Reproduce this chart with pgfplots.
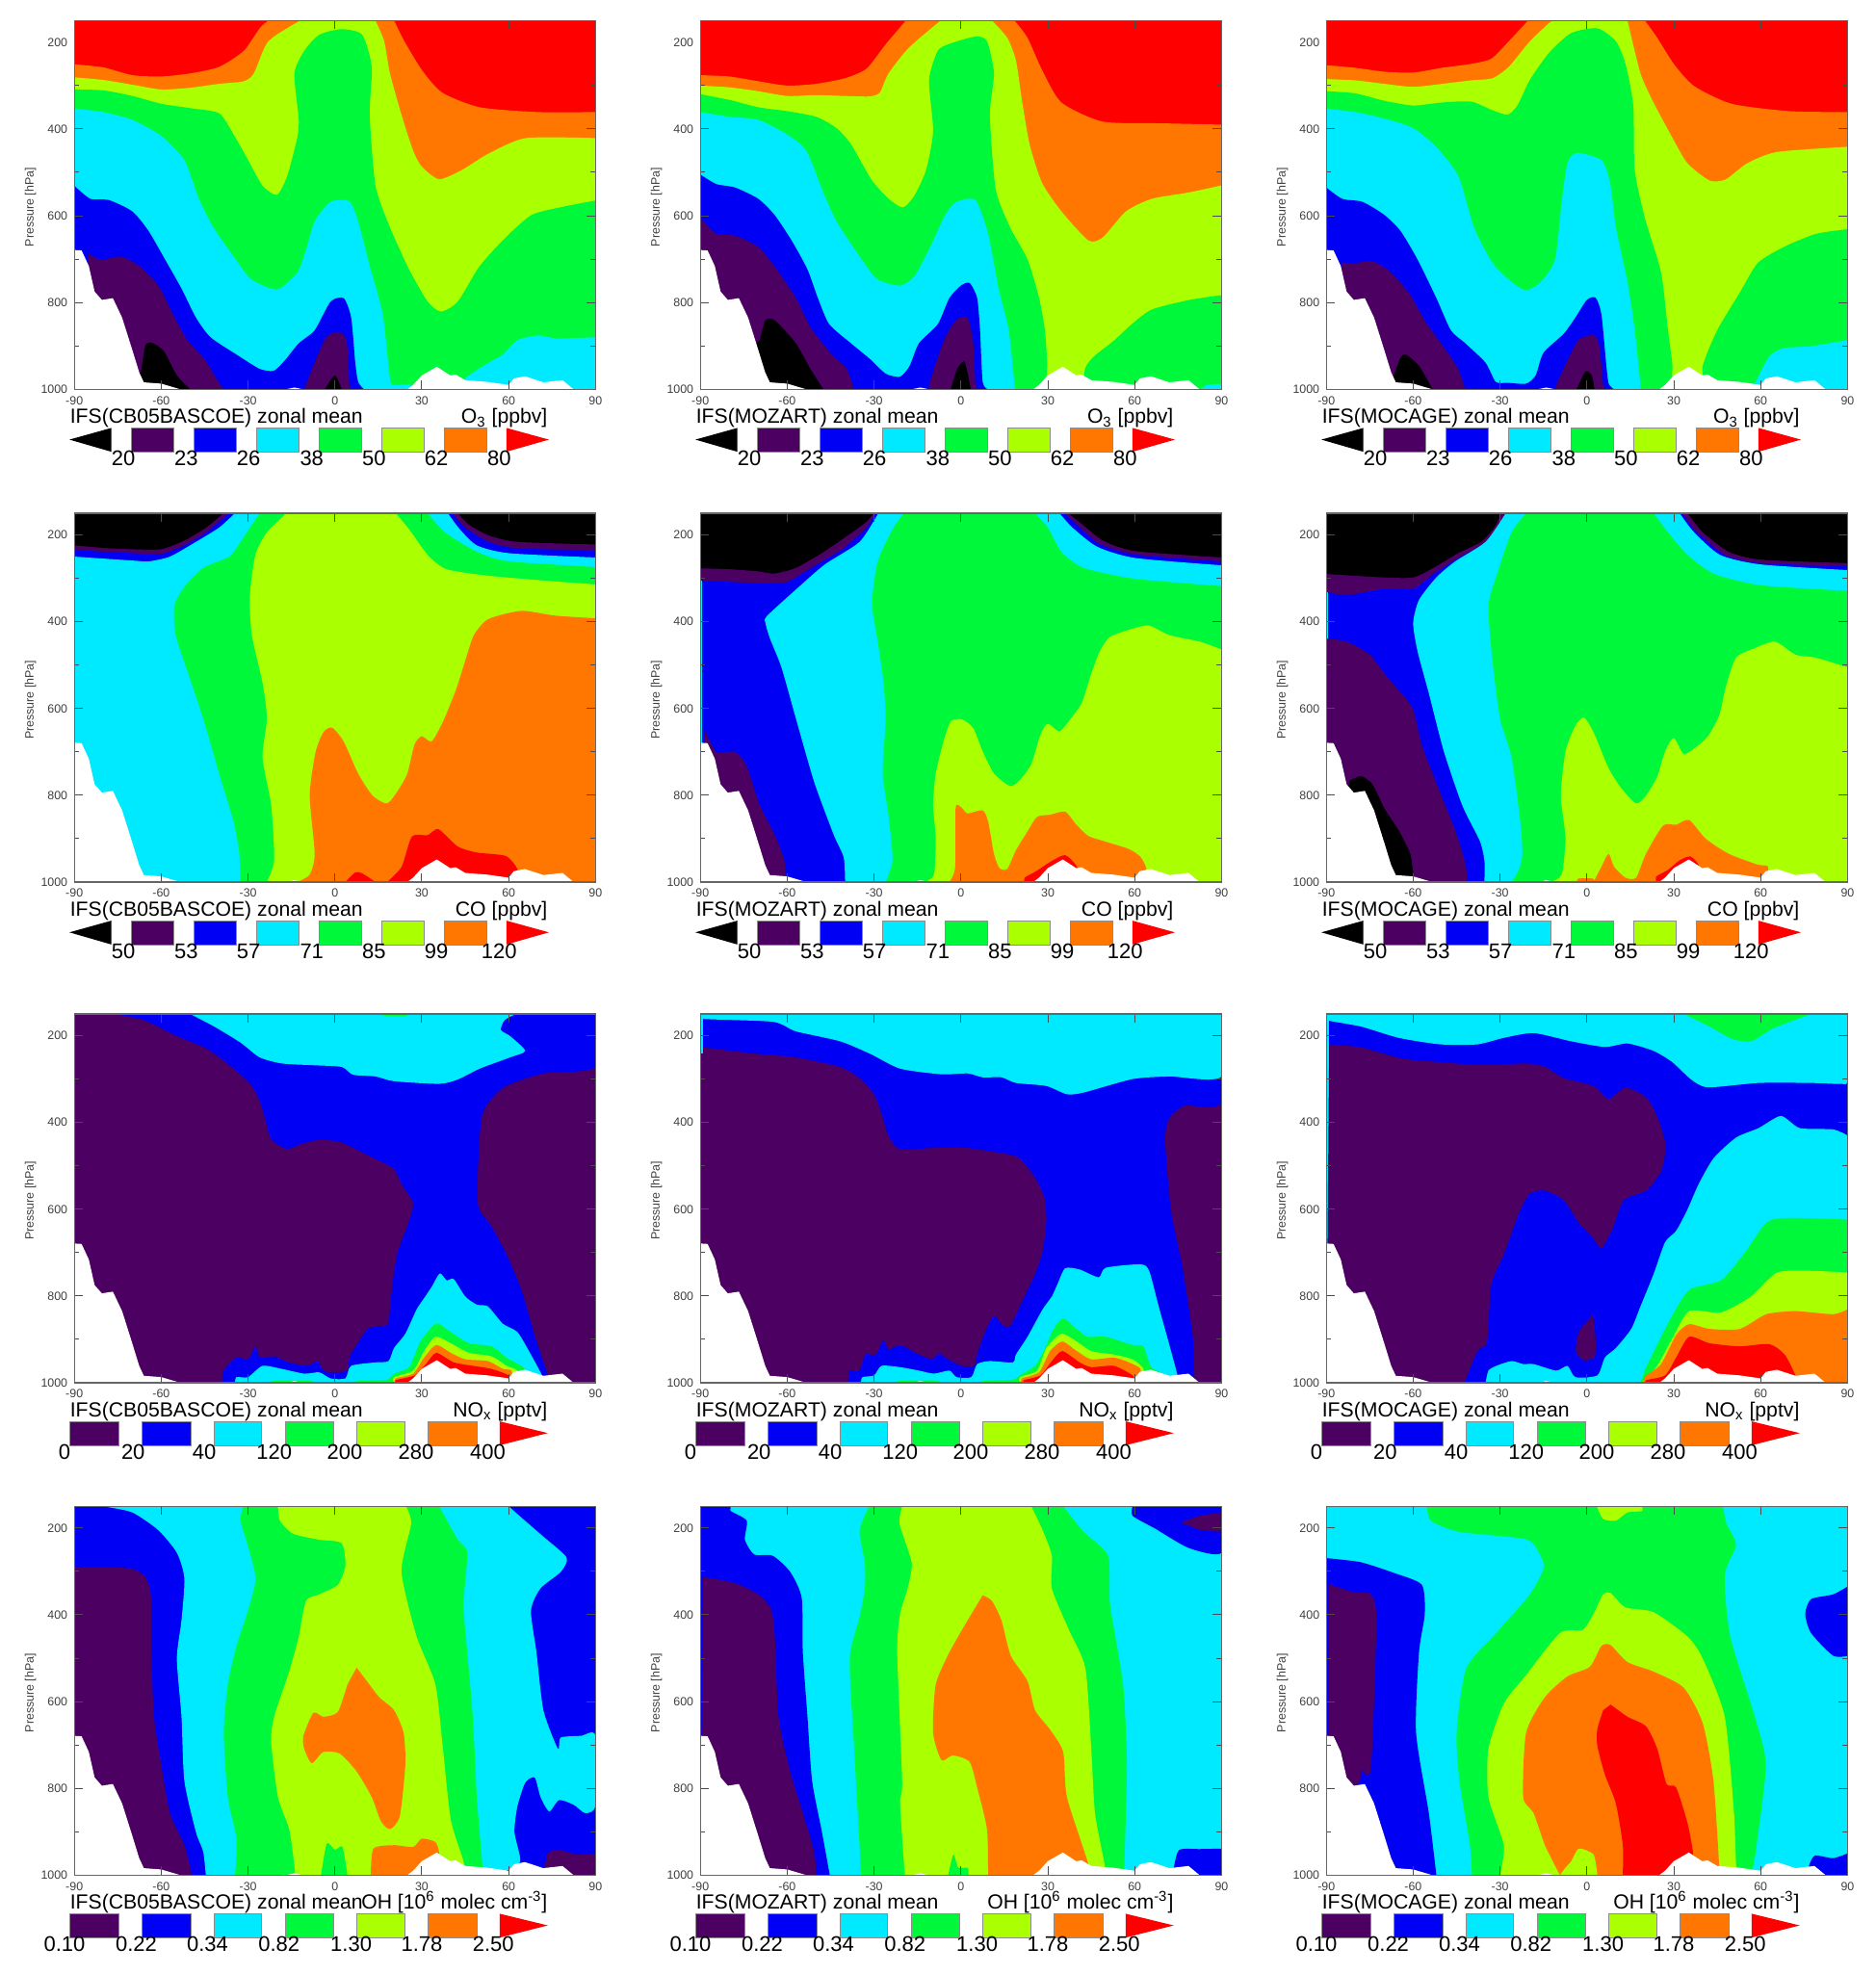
\documentclass[border=0pt]{standalone}
\usepackage{fontspec}
\setmainfont{Liberation Sans}
\usepackage{pgfplots}
\pgfplotsset{compat=1.18}
\definecolor{cP}{HTML}{4B0062}
\definecolor{cB}{HTML}{0000F5}
\definecolor{cC}{HTML}{00EAFF}
\definecolor{cG}{HTML}{00F83A}
\definecolor{cY}{HTML}{AAFF00}
\definecolor{cO}{HTML}{FF7700}
\definecolor{cR}{HTML}{FF0000}
\tikzset{ct/.style={fill=#1,draw=none,smooth,tension=0.4}}
% closed contour region; B: closes over the lower right and left corners, L: lower left only, R: lower right only
\newcommand{\reg}[2]{\addplot[ct=#1] coordinates {#2} -- cycle;}
\newcommand{\regB}[2]{\addplot[ct=#1] coordinates {#2} -- (axis cs:90,1000) -- (axis cs:-90,1000) -- cycle;}
\newcommand{\regL}[2]{\addplot[ct=#1] coordinates {#2} -- (axis cs:-90,1000) -- cycle;}
\newcommand{\regR}[2]{\addplot[ct=#1] coordinates {#2} -- (axis cs:90,1000) -- cycle;}
\newcommand{\full}[1]{\addplot[fill=#1,draw=none] coordinates {(-90,150)(90,150)(90,1000)(-90,1000)} -- cycle;}
% orography, same in every panel
\newcommand{\terrain}{\addplot[fill=white,draw=none] coordinates {(-90,1000)(-90,679)(-87.5,680)(-85,716)(-83,775)(-80.5,794)(-76.7,790)(-73.5,835)(-70,909)(-67.6,961)(-66,984)(-60,987)(-53.4,1000)(-17,1000)(-14,996)(-11,1000)(25,1000)(27,990)(30,968)(35.2,948)(39.8,968)(41.7,966)(45,979)(52.7,983)(60,990)(61.8,975)(65.6,970)(72,984)(78.6,979)(82.4,1000)} -- cycle;}
\newcommand{\sw}[3]{\addplot[fill=#3,draw=black!45,line width=.3pt] coordinates {(#1,1089)(#2,1089)(#2,1144)(#1,1144)} -- cycle;}
\newcommand{\lab}[2]{\node[font=\fontsize{11}{12}\selectfont] at (axis cs:#1,1160) {#2};}
\newcommand{\upr}{\addplot[fill=cR,draw=none] coordinates {(59.2,1089)(59.2,1144)(73.9,1116)} -- cycle;}
\newcommand{\cbA}[7]{%
 \addplot[fill=black,draw=none] coordinates {(-77.2,1089)(-77.2,1144)(-91.7,1116)} -- cycle;
 \sw{-70.2}{-55.8}{cP}\sw{-48.6}{-34.2}{cB}\sw{-27}{-12.4}{cC}\sw{-5.4}{9}{cG}\sw{16.2}{30.8}{cY}\sw{37.8}{52.3}{cO}\upr
 \lab{-73.1}{#1}\lab{-51.4}{#2}\lab{-29.8}{#3}\lab{-8}{#4}\lab{13.5}{#5}\lab{35}{#6}\lab{56.7}{#7}}
\newcommand{\cbB}[7]{%
 \sw{-91.5}{-74.6}{cP}\sw{-66.6}{-49.8}{cB}\sw{-41.9}{-25.4}{cC}\sw{-17.2}{-0.5}{cG}\sw{7.5}{24}{cY}\sw{32}{48.9}{cO}
 \addplot[fill=cR,draw=none] coordinates {(56.9,1089)(56.9,1144)(73.5,1116)} -- cycle;
 \lab{-93.4}{#1}\lab{-69.7}{#2}\lab{-45.1}{#3}\lab{-21}{#4}\lab{3.4}{#5}\lab{28}{#6}\lab{52.8}{#7}}
\newcommand{\cbC}[7]{%
 \sw{-91.5}{-74.6}{cP}\sw{-66.6}{-49.8}{cB}\sw{-41.9}{-25.4}{cC}\sw{-17.2}{-0.5}{cG}\sw{7.5}{24}{cY}\sw{32}{48.9}{cO}
 \addplot[fill=cR,draw=none] coordinates {(56.9,1089)(56.9,1144)(73.5,1116)} -- cycle;
 \lab{-93.4}{#1}\lab{-68.6}{#2}\lab{-44}{#3}\lab{-19.3}{#4}\lab{5.6}{#5}\lab{30}{#6}\lab{54.7}{#7}}
\newcommand{\titles}[2]{%
 \node[anchor=base west,inner sep=0pt,font=\fontsize{10.6}{11}\selectfont] at (axis cs:-91.6,1079) {#1};
 \node[anchor=base east,inner sep=0pt,font=\fontsize{10.6}{11}\selectfont] at (axis cs:73.5,1079) {#2};}
\pgfplotsset{
 base/.style={scale only axis,width=270.6pt,height=191.5pt,anchor=south west,
  xmin=-90,xmax=90,ymin=150,ymax=1000,y dir=reverse},
 panel/.style={base,axis on top,
  xtick={-90,-60,...,90},ytick={200,400,600,800,1000},minor y tick num=1,
  tick align=inside,major tick length=4.5pt,minor tick length=2.5pt,
  axis line style={black!60,line width=.6pt},tick style={black!70,line width=.5pt},
  ticklabel style={font=\fontsize{6.2}{7}\selectfont,text=black!75},
  /pgf/number format/assume math mode=true,/pgf/number format/1000 sep={},
  ylabel={Pressure [hPa]},
  ylabel style={font=\fontsize{6.2}{7}\selectfont,text=black!75,at={(axis description cs:-0.084,0.494)},anchor=center}},
}
% contours are clipped to the frame; titles and colour bar sit in an unclipped overlay axis
\newcommand{\panel}[4]{%
 \begin{axis}[panel,at={(#1pt,#2pt)}] #3 \terrain \end{axis}
 \begin{axis}[base,at={(#1pt,#2pt)},hide axis,clip=false] #4 \end{axis}}
\begin{document}
\begin{tikzpicture}
\path[use as bounding box] (0,0) rectangle (974pt,1025pt);
% ---- O3 ----
\panel{38.6}{822.85}{
\full{cR}
\regB{cO}{(-90,251)(-80,258)(-70,276)(-60,279)(-50,272)(-40,257)(-31.5,220)(-26,168)(-23,150)(-23,150)(20.4,150)(20.4,150)(24,198)(30,264)(37,316)(50,350)(70,361)(90,361)}
\regB{cY}{(-90,281)(-80,287)(-70,298)(-60,309)(-50,305)(-40,296)(-31.5,290)(-28,272)(-23,198)(-12,150)(-12,150)(14,150)(14,150)(17,198)(19,272)(23,368)(27,450)(30,487)(36,516)(44,494)(53,457)(66,421)(90,421)}
\regB{cG}{(-90,309)(-80,311)(-70,324)(-60,342)(-50,352)(-40,364)(-35,413)(-30,472)(-25,531)(-20,552)(-16.5,509)(-13,420)(-12.5,376)(-14,272)(-10.6,220)(-5.4,183)(2.3,170)(9.4,183)(12.7,257)(12,368)(14,531)(19,627)(25.6,724)(32,798)(36.6,821)(42.4,798)(50,716)(59,650)(68,598)(79,579)(90,565)}
\regL{cC}{(-90,353)(-80,361)(-70,379)(-60,416)(-52,472)(-47,561)(-42,627)(-35,694)(-29,746)(-20,770)(-13,731)(-10,679)(-7,613)(-1.5,568)(5,567)(8,613)(12,716)(16.5,827)(19,975)(20.4,990)(26,989)(26,1000)}
\regR{cC}{(45,1000)(45,975)(53,939)(58,920)(63,887)(70,876)(77,883)(90,880)}
\regL{cB}{(-90,531)(-84.5,561)(-78,564)(-70,590)(-64.4,635)(-58,709)(-53,768)(-48,835)(-43,880)(-34,920)(-26,953)(-21,957)(-17,931)(-12.5,894)(-7,864)(-1.5,798)(3,790)(5.6,835)(7,938)(8,983)(10,1000)}
\regL{cP}{(-85,687)(-81,702)(-74,694)(-67.6,716)(-61,761)(-56,827)(-51,887)(-45,931)(-41,975)(-38.5,1000)}
\reg{cP}{(-10.6,1000)(-7,938)(-3,880)(1,868)(4,887)(5,990)(6,1000)}
\regL{black}{(-67,961)(-65.4,898)(-62.8,894)(-59,913)(-54.6,968)(-50,1000)}
\reg{black}{(-3.5,1000)(0,968)(2.3,1000)}
}{\titles{IFS(CB05BASCOE) zonal mean}{O\textsubscript{3} [ppbv]}
\cbA{20}{23}{26}{38}{50}{62}{80}}
\panel{363.6}{822.85}{
\full{cR}
\regB{cO}{(-90,276)(-80,279)(-70,290)(-60,300)(-50,296)(-40,283)(-32.6,261)(-26,205)(-19,150)(-19,150)(18.5,150)(18.5,150)(23,190)(28,264)(34.7,339)(49,383)(70,387)(90,390)}
\regB{cY}{(-90,300)(-80,304)(-70,313)(-60,324)(-50,322)(-40,324)(-31.5,325)(-28,316)(-25,272)(-18,213)(-7,150)(-7,150)(10.7,150)(10.7,150)(16,190)(19,242)(21,331)(23.7,435)(28,524)(34.7,590)(44,657)(49,650)(57,590)(66,561)(79,546)(90,530)}
\regB{cG}{(-90,320)(-80,333)(-70,350)(-60,359)(-50,372)(-43,398)(-38,435)(-31,516)(-25,561)(-20,581)(-16,553)(-12,494)(-9.6,405)(-11,287)(-8,220)(-4,204)(5,187)(9,198)(11.4,272)(10,368)(12,539)(17,627)(23,701)(27,790)(29,864)(29.8,942)(30,1000)(41,1000)(43,950)(46,924)(53,887)(59,850)(66,816)(79,794)(90,783)}
\regL{cC}{(-90,361)(-80,372)(-70,379)(-60,413)(-53.4,450)(-48,539)(-43,613)(-35,694)(-29,746)(-21,761)(-16,739)(-10.6,672)(-5.4,598)(-1.5,568)(5,564)(9.4,642)(13,768)(16.5,864)(18.5,990)(18.5,1000)}
\regR{cC}{(83,1000)(85,990)(90,988)}
\regL{cB}{(-90,505)(-84.5,527)(-78,535)(-70,561)(-64.4,598)(-58.5,657)(-53,724)(-49.4,790)(-45.5,850)(-38,894)(-31.3,931)(-26,964)(-21,971)(-17.7,946)(-14.5,894)(-8,850)(-4,790)(0,761)(3,755)(5.6,790)(6.6,864)(7.5,983)(9.4,1000)}
\regL{cP}{(-90,605)(-84.5,642)(-78,646)(-70,672)(-63.6,724)(-57,790)(-52,857)(-45,917)(-39.5,953)(-37,1000)}
\reg{cP}{(-11,1000)(-11,990)(-9.3,953)(-5.4,880)(-1.5,839)(2.3,835)(4.3,894)(5,990)(6,1000)}
\regL{black}{(-69.5,887)(-67.5,841)(-64.3,841)(-57,894)(-52,953)(-47.5,1000)}
\reg{black}{(-3.5,1000)(-1.3,953)(1,935)(2,953)(3.4,1000)}
}{\titles{IFS(MOZART) zonal mean}{O\textsubscript{3} [ppbv]}
\cbA{20}{23}{26}{38}{50}{62}{80}}
\panel{688.6}{822.85}{
\full{cR}
\regB{cO}{(-90,253)(-80,259)(-70,268)(-60,270)(-50,259)(-40,250)(-33,238)(-27,198)(-20.3,150)(-20.3,150)(20,150)(20,150)(24,187)(30,250)(37,301)(50,342)(70,359)(90,361)}
\regB{cY}{(-90,285)(-80,288)(-70,296)(-60,303)(-50,296)(-40,288)(-32.6,283)(-27,257)(-19.7,198)(-12.5,153)(-10,150)(-10,150)(14,150)(14,150)(18.5,272)(23,339)(29.5,420)(34.7,479)(42.4,519)(48,516)(55.4,479)(65.7,453)(90,441)}
\regB{cG}{(-90,313)(-80,318)(-70,335)(-60,346)(-50,339)(-40,337)(-32.6,357)(-27.4,367)(-24,346)(-19.7,287)(-13,224)(-5.4,179)(3.6,168)(10,198)(13.3,250)(16,346)(16.5,494)(20,605)(25.6,731)(28,864)(29.5,942)(30,1000)(40,1000)(40,946)(45,864)(53,775)(59,709)(68,672)(79,642)(90,631)}
\regL{cC}{(-90,353)(-80,361)(-70,376)(-60,398)(-52,442)(-44.4,509)(-39,627)(-32.6,709)(-26,753)(-21,772)(-16,753)(-11,701)(-8.7,568)(-6.7,479)(-3.5,455)(5,472)(8,524)(10,627)(14,753)(16.5,864)(18.5,990)(18.5,1000)}
\regR{cC}{(57,1000)(58,987)(63,924)(68,905)(77,901)(90,887)}
\regL{cB}{(-90,535)(-84.5,561)(-77.5,568)(-70,598)(-64.4,635)(-58.5,701)(-52,790)(-47,864)(-42,894)(-35,939)(-31.5,983)(-27.4,985)(-21,987)(-17.7,968)(-15,916)(-8,872)(-4,835)(0,794)(3,789)(5,827)(6.6,938)(7.5,987)(9.4,1000)}
\regL{cP}{(-84.7,707)(-81,710)(-74,705)(-67.6,731)(-61,783)(-56,842)(-48,917)(-44.5,953)(-42,1000)}
\reg{cP}{(-11,1000)(-10.6,990)(-7,938)(-3,887)(2.3,875)(4.3,901)(5.6,990)(6,1000)}
\regL{black}{(-67,975)(-64.4,927)(-62.5,920)(-58,946)(-53.3,1000)}
\reg{black}{(-3.5,1000)(-0.5,959)(1.7,968)(2.6,1000)}
}{\titles{IFS(MOCAGE) zonal mean}{O\textsubscript{3} [ppbv]}
\cbA{20}{23}{26}{38}{50}{62}{80}}
% ---- CO ----
\panel{38.6}{567}{
\full{black}
\regB{cP}{(-90,224)(-80,230)(-70,233)(-60,233)(-52,213)(-44.4,183)(-38.5,150)(-38.5,150)(42.4,150)(42.4,150)(46,175)(53,201)(63,216)(90,222)}
\regB{cB}{(-90,235)(-70,242)(-60,244)(-52,224)(-44.4,194)(-36.7,150)(-36.7,150)(40.5,150)(40.5,150)(45,183)(53,216)(63,231)(90,235)}
\regB{cC}{(-90,250)(-70,259)(-64.4,261)(-57,250)(-48,216)(-40,183)(-34.5,150)(-34.5,150)(39,150)(39,150)(43,186)(49,224)(60,242)(90,252)}
\regR{cG}{(-32.6,1000)(-33,935)(-35,861)(-40,750)(-45.5,623)(-51,513)(-55,431)(-55.5,364)(-52,320)(-45.5,276)(-36.5,250)(-32.6,216)(-26,150)(-26,150)(32,150)(32,150)(38,194)(49,239)(60,261)(90,274)}
\regR{cY}{(-23.5,1000)(-21,950)(-22,824)(-25,713)(-23.5,623)(-25,541)(-28.7,431)(-29.4,342)(-27.5,246)(-23.5,194)(-18.4,160)(-17,150)(-17,150)(21,150)(21,150)(25.6,187)(32,246)(38.5,279)(53,294)(72,305)(90,314)}
\regR{cO}{(-13,1000)(-8.7,983)(-7,935)(-8.7,800)(-6.7,701)(-4,655)(-1,644)(3,676)(8,750)(13,801)(18,819)(21.7,790)(25,750)(27.5,683)(30,664)(33.4,676)(37.3,631)(41.8,557)(45,490)(48,431)(53,394)(64.4,375)(76,386)(90,392)}
\reg{cR}{(18,1000)(23,965)(26.6,895)(32,892)(35.7,878)(42.4,918)(49,932)(59,940)(63,970)(63,1000)}
\reg{cR}{(3.6,1000)(7,978)(9.4,980)(14,1000)}
}{\titles{IFS(CB05BASCOE) zonal mean}{CO [ppbv]}
\cbA{50}{53}{57}{71}{85}{99}{120}}
\panel{363.6}{567}{
\full{black}
\regB{cP}{(-90,277)(-80,279)(-70,284)(-64.4,289)(-57,276)(-48,242)(-39,201)(-33,172)(-30,150)(-30,150)(37,150)(37,150)(41.8,175)(49,213)(60,237)(90,252)}
\regB{cB}{(-90,305)(-70,311)(-61,311)(-56,294)(-48,261)(-40.5,231)(-32.6,183)(-29.4,150)(-29.4,150)(35.7,150)(35.7,150)(40.5,179)(47.6,220)(60,245)(90,261)}
\regR{cC}{(-40,1000)(-40.5,943)(-44,890)(-50.7,769)(-57,623)(-62,505)(-66,438)(-67.5,403)(-67,387)(-56,320)(-47,268)(-35,216)(-28.5,150)(-28.5,150)(34,150)(34,150)(38.5,183)(47,227)(60,253)(90,270)}
\addplot[fill=cC,draw=none] coordinates {(-90,305)(-89.5,305)(-89.5,680)(-90,680)} -- cycle;
\regR{cG}{(-26,1000)(-23.6,950)(-25,846)(-27,750)(-26,623)(-26.8,535)(-28.7,446)(-30.7,357)(-28.7,261)(-23.6,187)(-19.7,150)(-19.7,150)(25.6,150)(25.6,150)(30,183)(34.7,239)(42.4,276)(60,301)(90,318)}
\regR{cY}{(-12.5,1000)(-9.3,983)(-8.7,899)(-9.6,823)(-8.7,750)(-6,676)(-3.5,630)(0.4,625)(4.3,646)(7.5,699)(11.4,750)(17,779)(20.4,765)(24.3,728)(27.5,660)(30,635)(34,653)(38,623)(41.8,586)(45,520)(48,468)(51.5,435)(59.3,416)(65,409)(72,431)(82.5,446)(90,464)}
\reg{cO}{(-4,1000)(-2,966)(-1.8,828)(0.4,830)(2.3,842)(7.5,835)(9.4,861)(11.4,935)(13.3,968)(16,970)(19,927)(22.4,890)(26.3,850)(30.8,845)(36,838)(40,869)(44,894)(49,905)(58,924)(62,942)(64,968)(64,1000)}
\reg{cR}{(22,1000)(22,990)(26,975)(31,953)(36,938)(40,964)(41,1000)}
\regL{cP}{(-88.5,649)(-84.5,700)(-78,700)(-74,733)(-69.5,823)(-64.4,890)(-61,950)(-60.5,1000)}
}{\titles{IFS(MOZART) zonal mean}{CO [ppbv]}
\cbA{50}{53}{57}{71}{85}{99}{120}}
\panel{688.6}{567}{
\full{black}
\regB{cP}{(-90,290)(-70,298)(-60,298)(-53,276)(-44.4,242)(-36.5,216)(-32,183)(-29.4,150)(-29.4,150)(34.7,150)(34.7,150)(40,194)(49,239)(60,257)(90,265)}
\regB{cB}{(-90,331)(-83,339)(-70,324)(-60,324)(-53,290)(-44.4,253)(-34.5,216)(-30.5,183)(-28,150)(-28,150)(33,150)(33,150)(37,187)(47.6,246)(60,265)(90,272)}
\regR{cC}{(-35.4,1000)(-35.4,950)(-37,905)(-43,824)(-49.4,699)(-54.6,565)(-58.5,468)(-60,403)(-58,350)(-52,298)(-45.5,261)(-35,216)(-28,150)(-28,150)(32,150)(32,150)(37,194)(46,246)(60,268)(90,281)}
\addplot[fill=cC,draw=none] coordinates {(-90,331)(-89.5,331)(-89.5,680)(-90,680)} -- cycle;
\regR{cG}{(-26,1000)(-23.5,972)(-22.3,935)(-23,861)(-26,713)(-30,623)(-32.6,490)(-34,364)(-31,290)(-26,194)(-21,150)(-21,150)(23,150)(23,150)(28,194)(34.7,246)(44,290)(60,316)(90,329)}
\regR{cY}{(-12.5,1000)(-8.7,983)(-7.4,899)(-9,801)(-7.4,699)(-4,640)(-1,621)(2.3,655)(7.5,738)(12,785)(17,819)(20.4,801)(24.3,757)(27,699)(30,668)(33.4,705)(37.3,691)(41.8,664)(45.7,616)(48,550)(51.5,483)(58,461)(65,446)(72,476)(79,483)(90,505)}
\reg{cO}{(2.3,1000)(5,965)(7.5,935)(9.4,965)(13.3,990)(17,990)(20.4,935)(26.3,870)(30.8,868)(35.3,857)(41,900)(49,935)(59,960)(62.5,964)(62.5,1000)}
\reg{cO}{(-3.5,1000)(-3,992)(2,992)(3,1000)}
\reg{cR}{(24,1000)(24,987)(28,972)(32,950)(35.7,941)(38.5,960)(39,1000)}
\regL{cP}{(-90,439)(-83,446)(-75,476)(-69,528)(-60.5,596)(-57,685)(-52,772)(-45,890)(-41.8,964)(-41.5,1000)}
\regL{black}{(-82,767)(-78,756)(-74,775)(-70,830)(-65,881)(-61,935)(-60,983)(-60,1000)}
}{\titles{IFS(MOCAGE) zonal mean}{CO [ppbv]}
\cbA{50}{53}{57}{71}{85}{99}{120}}
% ---- NOx ----
\panel{38.6}{307}{
\full{cP}
\reg{cB}{(-76.6,150)(-66,164)(-54.6,201)(-44,231)(-35,276)(-29,313)(-26,350)(-24,394)(-22,439)(-16.5,461)(-12,450)(-5.4,440)(2.3,446)(11.4,476)(20,505)(23,542)(27,587)(25,639)(21.7,698)(20,764)(18.5,861)(17,868)(11.4,876)(7.5,913)(5,942)(4.3,972)(-1,976)(-4,972)(-6,950)(-9.3,961)(-16,953)(-21,939)(-26,942)(-27.4,916)(-30,946)(-34,942)(-38.4,972)(-39,1000)(-39,1000)(73.5,1000)(73.5,1000)(73.5,983)(69.6,905)(64.4,787)(59.3,705)(54,639)(49.5,594)(49.5,490)(51,379)(58,320)(72,287)(90,272)(90,150)}
\reg{cC}{(-50,150)(-41.7,179)(-32.6,216)(-26,250)(-18.4,264)(-8,268)(2.3,272)(6.2,290)(14,294)(20.4,305)(36,311)(42.4,301)(50,276)(60.5,250)(65.7,235)(60.5,201)(57.3,187)(58.6,164)(62.5,150)}
\reg{cG}{(15,150)(18,155)(24,155)(26,150)}
\reg{cC}{(-34.5,1000)(-34,987)(-30,987)(-25,961)(-18.4,968)(-10.6,979)(-5.4,976)(-1.5,990)(3.6,990)(5.6,961)(14,953)(18.5,950)(20.4,920)(24.3,887)(28.2,831)(30.8,805)(33.4,779)(36.2,748)(38.6,764)(41,761)(45,801)(49,820)(52.8,824)(58,864)(63,883)(67,927)(71.5,983)(71.5,1000)}
\reg{cG}{(-24,1000)(-20,995)(-10,995)(-5,1000)}
\reg{cG}{(5,1000)(9,995)(18,993)(20.4,979)(25.6,964)(29.5,905)(34,868)(35.7,863)(40,883)(46.3,909)(54,916)(59.3,942)(65.7,968)(66,1000)}
\reg{cY}{(20.4,1000)(20.4,987)(27,972)(30.8,927)(34.7,894)(40,909)(46.3,931)(54,939)(59.3,961)(63,972)(63,1000)}
\reg{cO}{(21,1000)(21,990)(27,979)(30.8,942)(35,913)(40,931)(45,946)(52.8,950)(58,968)(61,972)(61,1000)}
\reg{cR}{(21,1000)(21,994)(27.5,983)(31.4,957)(35,931)(41,953)(47.6,961)(54,968)(60,983)(60,1000)}
}{\titles{IFS(CB05BASCOE) zonal mean}{NO\textsubscript{x} [pptv]}
\cbB{0}{20}{40}{120}{200}{280}{400}}
\panel{363.6}{307}{
\full{cP}
\reg{cB}{(-90,150)(-90,227)(-89,227)(-70,242)(-57,250)(-41.7,272)(-35,298)(-30,335)(-27.4,379)(-25,431)(-21,462)(-10.6,459)(1,458)(15.3,472)(20.4,483)(25.6,527)(28.8,572)(29.5,624)(28.2,698)(25.6,750)(23,787)(20.4,824)(17,870)(14.6,868)(11.4,846)(9.4,868)(7.5,898)(5.6,935)(4.7,961)(0,961)(-5.4,942)(-7.4,931)(-10,946)(-15.8,931)(-21,913)(-25,924)(-26.8,902)(-29.4,935)(-33,935)(-35,972)(-38.4,972)(-39,1000)(-39,1000)(81,1000)(81,1000)(80.6,987)(80,890)(76.5,735)(72.5,601)(70.5,439)(72,390)(77.4,361)(90,353)(90,150)}
\reg{cC}{(-90,150)(-90,161)(-65,168)(-57,190)(-41.7,213)(-31.3,242)(-21,276)(-6.7,289)(2.3,287)(7.5,296)(14,296)(19,309)(29.5,316)(36.6,335)(42.4,331)(59.3,300)(72,294)(90,294)(90,150)}
\addplot[fill=cC,draw=none] coordinates {(-90,161)(-89,161)(-89,240)(-90,240)} -- cycle;
\reg{cC}{(-34.5,1000)(-34,987)(-30,983)(-27.4,961)(-21,964)(-14.5,972)(-9.3,979)(-4,972)(-1.5,987)(3.6,987)(5.6,957)(10,950)(17.9,953)(19,935)(23,894)(28.2,831)(31.4,801)(33.4,772)(36,736)(41,739)(47.6,757)(50,735)(62,727)(65,742)(68.3,824)(72,913)(74.8,983)(75,1000)}
\reg{cG}{(-24,1000)(-20,995)(-10,995)(-5,1000)}
\reg{cG}{(5,1000)(9,995)(18,993)(20.4,983)(25.6,961)(28.8,924)(32,876)(35.3,852)(40,876)(43.7,894)(50,894)(59.3,913)(63,916)(65.7,964)(69.6,979)(70,1000)}
\reg{cY}{(20.4,1000)(20.4,987)(26.3,972)(29.5,920)(34.7,887)(40,905)(45,927)(52.8,935)(59.3,946)(63,968)(63,1000)}
\reg{cO}{(21,1000)(21,990)(27,976)(30.8,927)(35,905)(40,927)(45,946)(52.8,942)(58,953)(62,968)(62,1000)}
\reg{cR}{(21.7,1000)(21.7,994)(27.5,983)(31.4,950)(35,927)(41,953)(45,964)(52.8,961)(59.3,983)(60,1000)}
}{\titles{IFS(MOZART) zonal mean}{NO\textsubscript{x} [pptv]}
\cbB{0}{20}{40}{120}{200}{280}{400}}
\panel{688.6}{307}{
\full{cB}
\reg{cC}{(-90,150)(-90,164)(-78,179)(-65,205)(-50.7,220)(-37.8,220)(-28.7,205)(-18.4,194)(-5.4,213)(6.2,226)(14,218)(23,235)(29.5,261)(36,301)(41.8,319)(59.3,309)(77.4,309)(87.7,311)(90,301)(90,150)}
\addplot[fill=cC,draw=none] coordinates {(-90,150)(-89,150)(-89,680)(-90,680)} -- cycle;
\reg{cG}{(33.4,150)(42.4,179)(50,207)(56.7,213)(64.4,183)(77.4,150)}
\regL{cP}{(-89,220)(-78,227)(-63.6,253)(-50.7,261)(-36.5,268)(-21,264)(-14.5,272)(-8,298)(2.3,316)(7.5,346)(13.3,320)(20.4,342)(24.3,387)(27.2,453)(25.6,513)(20.4,557)(12.7,579)(8.8,646)(5,690)(2.3,668)(-2.8,631)(-8,579)(-14.5,557)(-19.7,564)(-23.5,609)(-28.7,705)(-33,772)(-34.5,905)(-37.8,927)(-42.3,1000)}
\reg{cP}{(-3.5,898)(-2.2,876)(1,853)(2,842)(3,898)(2.6,942)(-1.5,948)(-3.9,927)}
\regR{cC}{(-35,1000)(-34,972)(-31.3,961)(-26,950)(-22,957)(-18.4,957)(-10.6,972)(-6.7,961)(-4,987)(3.6,983)(6.2,942)(10,920)(15.3,876)(18.5,824)(23,750)(27,676)(30.8,650)(34.7,601)(38.6,542)(43.7,483)(51.5,435)(59.3,413)(67,385)(73.5,413)(85,416)(90,430)}
\regR{cG}{(18.5,1000)(20.4,965)(27,876)(32,816)(36,783)(46.3,764)(54,705)(62,631)(69.6,620)(90,624)}
\regR{cY}{(19,1000)(24.3,961)(29.5,898)(35.3,835)(46.3,838)(56.7,801)(65.7,746)(77.4,742)(90,746)}
\regR{cO}{(19.8,1000)(19.8,987)(25.6,957)(30.8,890)(35.3,865)(42.4,876)(52.8,876)(62,842)(72,835)(85,842)(90,831)}
\reg{cR}{(20.4,1000)(20.4,994)(27,983)(30.8,942)(35.3,894)(42.4,909)(52.8,916)(63,911)(68.3,935)(72,983)(72,1000)}
}{\titles{IFS(MOCAGE) zonal mean}{NO\textsubscript{x} [pptv]}
\cbB{0}{20}{40}{120}{200}{280}{400}}
% ---- OH ----
\panel{38.6}{51.35}{
\full{cB}
\reg{cC}{(-44.6,1000)(-45.5,946)(-48,901)(-52,783)(-53,635)(-54.6,501)(-53,413)(-52,316)(-54.6,257)(-61,205)(-70,164)(-80,150)(-80,150)(60,150)(60,150)(64.4,176)(72,220)(80,268)(78,301)(71,339)(67.7,390)(69.6,487)(72,620)(77,709)(78,683)(85,679)(90,679)(90,838)(86.4,857)(82.5,838)(77.4,827)(74,853)(71,820)(69,775)(65.7,787)(63,842)(62,901)(64,968)(59.3,990)(59.3,1000)}
\regL{cP}{(-90,290)(-80.5,290)(-70,294)(-65.6,313)(-63.6,353)(-63.4,487)(-62.5,635)(-60,746)(-57,857)(-52,931)(-49.4,1000)}
\regR{cP}{(72,1000)(73.5,950)(77.4,942)(84,953)(90,950)}
\reg{cG}{(-34.5,1000)(-34,916)(-37,820)(-38.4,672)(-37,561)(-34,472)(-30,390)(-27.4,316)(-30,242)(-32.6,183)(-31.7,150)(-31.7,150)(36,150)(36,150)(42.4,227)(45.7,257)(44.4,376)(45.7,487)(47.6,635)(49,820)(50.8,968)(51,1000)}
\reg{cY}{(-14,1000)(-13.8,990)(-15.8,894)(-19.7,820)(-22,694)(-21,635)(-15.8,531)(-12.5,450)(-10,368)(-5.4,353)(1,331)(3.6,287)(2.3,235)(-5.4,227)(-14.5,213)(-19,183)(-19.7,150)(-19.7,150)(24.6,150)(24.6,150)(26.3,190)(23,301)(28.2,450)(34.7,561)(37.3,709)(40,872)(44.4,968)(45,1000)}
\reg{cG}{(-4.8,1000)(-2.8,927)(0,942)(2.6,935)(4.3,1000)}
\reg{cO}{(7.5,522)(10.7,550)(15.3,590)(20.4,620)(23.7,672)(24.3,746)(22.4,864)(19,894)(15.9,876)(12.7,820)(7.5,761)(1.7,720)(-4,716)(-8,742)(-10.6,709)(-10.9,679)(-7.4,626)(-4,635)(1,624)(4.3,561)}
\reg{cO}{(12.4,1000)(13.3,939)(20.4,931)(27,935)(30,916)(34.7,924)(36,950)(36,1000)}
}{\titles{IFS(CB05BASCOE) zonal mean}{OH [10\textsuperscript{6} molec cm\textsuperscript{-3}]}
\cbC{0.10}{0.22}{0.34}{0.82}{1.30}{1.78}{2.50}}
\panel{363.6}{51.35}{
\full{cC}
\regL{cB}{(-90,150)(-80,150)(-79.5,161)(-74,183)(-74.6,227)(-71.4,261)(-65,264)(-59,301)(-55,361)(-54.6,487)(-53,635)(-51.4,783)(-48,901)(-45.3,1000)}
\regL{cP}{(-89,313)(-78,327)(-70,353)(-65.6,387)(-64.3,450)(-63,635)(-59,761)(-54.6,857)(-50.7,946)(-50,1000)}
\reg{cB}{(59.3,150)(59.3,172)(67,201)(78.7,246)(90,257)(90,150)}
\reg{cP}{(75.8,188)(82.5,172)(90,167)(90,207)(82.5,204)}
\regR{cB}{(73,1000)(73.5,983)(75.4,942)(82.5,940)(90,939)}
\reg{cG}{(-34.5,1000)(-35,931)(-37,694)(-38.4,501)(-35,405)(-33.2,339)(-33.2,280)(-35,205)(-31.7,150)(-31.7,150)(35.3,150)(35.3,150)(42.4,209)(50.8,264)(51.5,376)(56,561)(57.3,746)(56.4,984)(56,1000)}
\reg{cY}{(-19.4,1000)(-21,835)(-20.3,783)(-22,487)(-21,398)(-18.4,339)(-17,280)(-21.2,190)(-20.3,150)(-20.3,150)(24.3,150)(24.3,150)(28.2,205)(31.4,264)(31.4,339)(37.3,435)(43,524)(45,709)(46.3,857)(49.5,971)(50,1000)}
\reg{cG}{(-4.4,1000)(-2.6,953)(-0.9,983)(2.3,983)(2.6,1000)}
\reg{cO}{(7.5,355)(10.7,368)(14,413)(17.2,494)(23,553)(25.6,620)(30.8,665)(35.3,716)(36.6,820)(43.7,968)(44,1000)(44,1000)(9.4,1000)(9.4,1000)(9,894)(5.6,798)(3,739)(-2.8,724)(-6.7,735)(-9.6,672)(-8.7,561)(-4,487)(2.3,413)}
}{\titles{IFS(MOZART) zonal mean}{OH [10\textsuperscript{6} molec cm\textsuperscript{-3}]}
\cbC{0.10}{0.22}{0.34}{0.82}{1.30}{1.78}{2.50}}
\panel{688.6}{51.35}{
\full{cC}
\regL{cB}{(-90,270)(-89,270)(-78,279)(-66,305)(-57,331)(-56,398)(-58,487)(-59,672)(-54.6,857)(-52,1000)}
\reg{cP}{(-89,330)(-81,347)(-74.6,353)(-72.7,413)(-74.6,753)(-78,757)(-79,790)(-90,800)(-90,680)(-89,680)}
\reg{cB}{(90,335)(85,353)(77.4,364)(75.4,398)(77.4,442)(85,494)(90,495)}
\regR{cB}{(76.5,1000)(76.7,979)(78.7,955)(85,961)(90,950)}
\reg{cG}{(-39.7,1000)(-40.4,931)(-44,783)(-45,672)(-41.7,524)(-31.3,442)(-19.7,353)(-15,294)(-16,264)(-21,226)(-44,209)(-54,183)(-55.2,150)(-55.2,150)(47,150)(47,150)(48.2,190)(51.5,239)(47.6,309)(49.5,450)(58,635)(61.8,746)(58.6,931)(57.3,984)(57,1000)}
\reg{cY}{(3.4,150)(5.6,179)(10,183)(14,164)(19,161)(19,150)}
\reg{cY}{(-30,1000)(-28.7,931)(-34,820)(-34,709)(-28.7,605)(-21,539)(-9.3,442)(-1.5,435)(2.3,398)(5.6,353)(8.2,350)(13.3,383)(23,394)(34.7,450)(40,501)(47.6,635)(50.8,857)(51.5,975)(52,1000)}
\reg{cO}{(-9.3,1000)(-14.5,931)(-18.4,857)(-22,820)(-21,672)(-14.5,590)(-6.7,542)(1,520)(5,472)(8.2,470)(14,509)(23,531)(33.4,568)(40,650)(43.7,783)(45.7,979)(46,1000)}
\reg{cY}{(-9.3,1000)(-7.4,983)(-5.4,968)(-2.8,939)(2.3,953)(3.6,1000)}
\reg{cR}{(8.2,607)(14,635)(20.4,657)(24.3,709)(27.5,790)(30.8,798)(34.7,879)(36.6,946)(37,1000)(37,1000)(12.4,1000)(12.4,1000)(12.4,931)(10,835)(6.2,768)(3.6,702)(3.6,664)(5.6,620)}
}{\titles{IFS(MOCAGE) zonal mean}{OH [10\textsuperscript{6} molec cm\textsuperscript{-3}]}
\cbC{0.10}{0.22}{0.34}{0.82}{1.30}{1.78}{2.50}}
\end{tikzpicture}
\end{document}
